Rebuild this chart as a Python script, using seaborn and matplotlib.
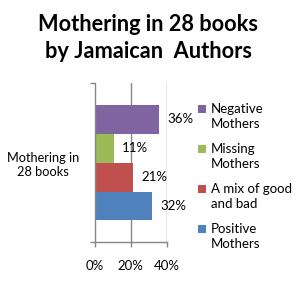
import matplotlib
matplotlib.use("Agg")
import matplotlib.pyplot as plt
import seaborn as sns
import pandas as pd
from matplotlib.patches import Rectangle

# Data
category = "Mothering in\n28 books"
groups = ["Negative Mothers", "Missing Mothers", "A mix of good and bad", "Positive Mothers"]
legend_labels = ["Negative\nMothers", "Missing\nMothers", "A mix of good\nand bad", "Positive\nMothers"]
values = [35.7, 10.7, 21.4, 32.1]
colors = ["#8064A2", "#9BBB59", "#C0504D", "#4F81BD"]
xticks = [0, 20, 40]
xticklabels = ["0%", "20%", "40%"]
title = "Mothering in 28 books\nby Jamaican  Authors"

sns.set_theme(style="white")
plt.rcParams["font.family"] = ["Lato", "DejaVu Sans"]

W, H = 297, 287
fig = plt.figure(figsize=(W / 100, H / 100), dpi=100)
fig.patch.set_facecolor("white")

def fx(px):
    return px / W

def fy(py):
    return 1 - py / H

ax = fig.add_axes([fx(94.7), fy(242.3), fx(166.7) - fx(94.7), fy(83) - fy(242.3)])

df = pd.DataFrame({"category": [category] * len(groups), "group": groups, "value": values})
sns.barplot(data=df, x="value", y="category", hue="group", hue_order=groups,
            palette=colors, saturation=1, width=0.725, dodge=True, legend=False,
            linewidth=0, ax=ax)

grid_c = "#868686"
fs = 9.5
ax.set_xlim(0, 40)
ax.set_xticks(xticks)
ax.set_xticklabels(xticklabels, fontsize=fs, color="black")
ax.set_xlabel("")
ax.set_ylabel("")
for v in xticks[1:]:
    ax.axvline(v, color=grid_c, lw=1, zorder=0)
for s in ["top", "right"]:
    ax.spines[s].set_visible(False)
for s in ["left", "bottom"]:
    ax.spines[s].set_color(grid_c)
    ax.spines[s].set_linewidth(1)
ax.tick_params(axis="x", which="major", length=3.5, width=1, color=grid_c, pad=9, bottom=True)
ax.tick_params(axis="y", which="major", length=0, pad=11)
ax.set_yticks([-0.5, 0.5], minor=True)
ax.tick_params(axis="y", which="minor", length=3.5, width=1, color=grid_c, left=True)
for t in ax.get_yticklabels():
    t.set_fontsize(9.2)
    t.set_multialignment("center")
    t.set_color("black")
    t.set_linespacing(1.25)

for cont in ax.containers:
    ax.bar_label(cont, fmt="%.0f%%", padding=6, fontsize=fs, color="black")

# Title
fig.text(0.5, fy(38), title, ha="center", va="center", fontsize=15.7,
         fontweight="bold", linespacing=1.32, color="black")

# Legend
y0 = [109, 149, 189, 229]
for lab, c, yc in zip(legend_labels, colors, y0):
    fig.patches.append(Rectangle((fx(198), fy(yc + 3.8)), fx(7.5), fy(0) - fy(7.5),
                                 transform=fig.transFigure, color=c, lw=0))
    fig.text(fx(210.5), fy(yc - 5.8), lab, ha="left", va="top", fontsize=fs,
             color="black", linespacing=1.25)

fig.savefig("out.png", dpi=100, facecolor="white")
